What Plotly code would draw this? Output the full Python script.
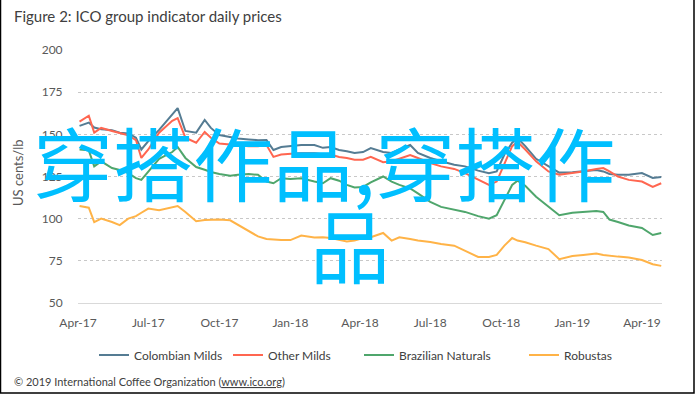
import plotly.graph_objects as go

dates = [
    "2017-04-03", "2017-04-15", "2017-04-22", "2017-05-01", "2017-05-15", "2017-05-25",
    "2017-06-05", "2017-06-15", "2017-06-22", "2017-07-01", "2017-07-15", "2017-08-01",
    "2017-08-08", "2017-08-18", "2017-09-01", "2017-09-12", "2017-09-20", "2017-10-01",
    "2017-10-15", "2017-10-25", "2017-11-08", "2017-11-20", "2017-12-01", "2017-12-10",
    "2017-12-20", "2018-01-01", "2018-01-15", "2018-02-01", "2018-02-12", "2018-02-22",
    "2018-03-05", "2018-03-15", "2018-03-25", "2018-04-05", "2018-04-15", "2018-05-01",
    "2018-05-12", "2018-05-22", "2018-06-05", "2018-06-15", "2018-07-01", "2018-07-15",
    "2018-08-01", "2018-08-15", "2018-09-01", "2018-09-15", "2018-09-25", "2018-10-05",
    "2018-10-15", "2018-10-22", "2018-11-01", "2018-11-15", "2018-12-01", "2018-12-15",
    "2019-01-01", "2019-01-15", "2019-02-01", "2019-02-10", "2019-02-18", "2019-03-01",
    "2019-03-15", "2019-04-01", "2019-04-15", "2019-04-26",
]

colombian_milds = [
    155, 157, 154, 153, 152.5, 151, 150.5, 148, 141, 146, 152.6, 162,
    165.5, 152, 151, 158.5, 153.8, 149.6, 148.4, 147.5, 147, 146.5, 146.6, 140.7,
    142.5, 143, 143.7, 143.7, 142, 142.5, 140.7, 140, 139, 139.5, 141.9, 139.5,
    139, 141, 143.7, 139, 136, 134, 132, 131, 128.5, 127, 128, 138,
    145, 147.8, 143, 135.5, 131, 127.3, 127.5, 128, 128.9, 128, 126.5, 126,
    126, 127, 124.1, 124.7,
]

other_milds = [
    157.5, 161, 151, 153.8, 152, 150.8, 149.5, 146.6, 136, 141, 151, 158,
    159.6, 148, 145, 151.4, 148, 144.5, 143.7, 143.5, 143, 143, 143.7, 136.6,
    138, 138.5, 139, 139, 138, 138, 136.6, 136, 135, 135, 136.6, 133.5,
    134, 135.5, 137.7, 136, 133, 131, 129.5, 127, 123, 120, 122, 132,
    143, 145.5, 141, 134, 128, 126, 127, 128, 129.5, 130, 128, 125,
    123, 122, 118.8, 121,
]

brazilian_naturals = [
    141, 140.5, 131, 134, 130, 128.9, 127, 124, 123, 128, 135.5, 139.5,
    142.5, 136, 130.6, 129, 127.7, 126.5, 125.5, 126, 126.5, 126, 122, 121,
    124, 123.5, 124, 122, 121, 124, 122.5, 120, 118.5, 118.8, 121.5, 125,
    122, 120, 118, 115, 110, 107, 105.5, 104, 101.5, 100, 102, 111,
    120, 122.5, 119.5, 113, 107, 102, 103.5, 104, 104.5, 104, 99.5, 98,
    96, 94.5, 90.3, 91.5,
]

robustas = [
    107.5, 106.5, 98, 100, 98, 96.2, 100, 101.5, 103.5, 106, 105, 106.5,
    107.5, 104, 98.5, 99.2, 99.5, 99.5, 99, 96.5, 93, 89.5, 88, 87.5,
    87.3, 87.3, 90, 88.8, 89, 88.5, 87.5, 86.5, 87, 88.5, 89, 91.5,
    87, 89, 88, 87, 86.2, 85, 84, 81, 77.3, 77.3, 78.5, 84,
    88.5, 87, 86, 84, 82, 76, 77.8, 78.5, 79.3, 78.5, 78, 77.5,
    77, 75.5, 73, 72,
]

series_names = ["Colombian Milds", "Other Milds", "Brazilian Naturals", "Robustas"]
series_colors = ["#557C93", "#FF6650", "#4FA66C", "#FFB347"]

tick_dates = ["2017-04-01", "2017-07-01", "2017-10-01", "2018-01-01", "2018-04-01",
              "2018-07-01", "2018-10-01", "2019-01-01", "2019-04-01"]
tick_labels = ["Apr-17", "Jul-17", "Oct-17", "Jan-18", "Apr-18",
               "Jul-18", "Oct-18", "Jan-19", "Apr-19"]
y_ticks = [50, 75, 100, 125, 150, 175, 200]

W, H = 695, 394
L, R, T, B = 78, 33, 50, 91
PW, PH = W - L - R, H - T - B


def px(x):
    return (x - L) / PW


def py(y):
    return (H - B - y) / PH


font_main = "Lato, 'Open Sans', sans-serif"

fig = go.Figure()
legend_ids = ["legend", "legend2", "legend3", "legend4"]
legend_x = [94, 228, 359, 524]
for name, vals, col, lid in zip(series_names,
                                [colombian_milds, other_milds, brazilian_naturals, robustas],
                                series_colors, legend_ids):
    fig.add_trace(go.Scatter(x=dates, y=vals, name=name, mode="lines", legend=lid,
                             line=dict(color=col, width=2)))

legend_common = dict(orientation="h", xanchor="left", y=py(355), yanchor="middle",
                     font=dict(size=12, color="#404040", family=font_main),
                     bgcolor="rgba(0,0,0,0)", itemwidth=30)
legends = {}
for lid, lx in zip(legend_ids, legend_x):
    d = dict(legend_common)
    d["x"] = px(lx)
    legends[lid] = d

fig.update_layout(
    width=W, height=H,
    margin=dict(l=L, r=R, t=T, b=B),
    paper_bgcolor="white", plot_bgcolor="white",
    font=dict(family=font_main, size=12, color="#595959"),
    showlegend=True,
    xaxis=dict(type="date", range=["2017-04-01", "2019-04-27"],
               tickvals=tick_dates, ticktext=tick_labels,
               showgrid=False, showline=True, linecolor="#D9D9D9", linewidth=1,
               ticks="outside", ticklen=9, tickcolor="rgba(0,0,0,0)",
               tickfont=dict(size=12, color="#595959"), zeroline=False),
    yaxis=dict(range=[50, 200], tickvals=y_ticks, showgrid=True,
               gridcolor="#C8C8C8", griddash="dot", gridwidth=1,
               ticks="outside", ticklen=12, tickcolor="rgba(0,0,0,0)",
               tickfont=dict(size=12, color="#595959"), zeroline=False, showline=False),
    **legends,
)

annotations = [
    dict(text="Figure 2: ICO group indicator daily prices", x=px(12), y=py(16),
         xanchor="left", yanchor="middle", showarrow=False,
         font=dict(size=15, color="#404040", family=font_main)),
    dict(text="US cents/lb", x=px(18), y=py(173), textangle=-90,
         xanchor="center", yanchor="middle", showarrow=False,
         font=dict(size=13, color="#595959", family=font_main)),
    dict(text="© 2019 International Coffee Organization (<u>www.ico.org</u>)",
         x=px(12), y=py(381), xanchor="left", yanchor="middle", showarrow=False,
         font=dict(size=11, color="#404040", family=font_main)),
    dict(text="穿搭作品,穿搭作", x=px(324), y=py(160), xanchor="center", yanchor="middle",
         showarrow=False, font=dict(size=80, color="#00BFFF", family="Noto Sans CJK SC")),
    dict(text="品", x=px(350), y=py(242), xanchor="center", yanchor="middle",
         showarrow=False, font=dict(size=80, color="#00BFFF", family="Noto Sans CJK SC")),
]
for a in annotations:
    a["xref"] = "paper"
    a["yref"] = "paper"
fig.update_layout(annotations=annotations)

fig.add_shape(type="path", xref="paper", yref="paper",
              path=f"M {px(0.5)} {py(-5)} L {px(0.5)} {py(393)} L {px(694)} {py(393)} L {px(694)} {py(-5)}",
              line=dict(color="#000000", width=1.5))

fig.write_html("out.html", config={"displayModeBar": False},
               post_script="document.body.style.margin='0';document.body.style.overflow='hidden';")
